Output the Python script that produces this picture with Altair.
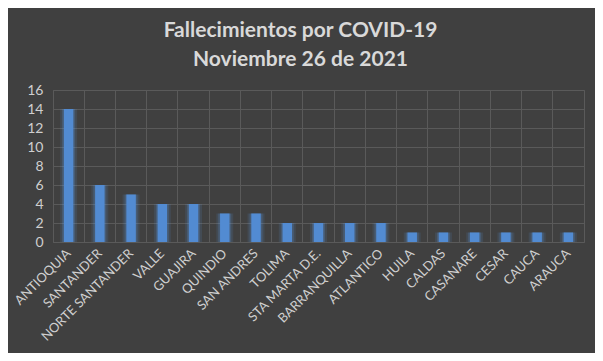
import altair as alt
import pandas as pd

departamentos = ["ANTIOQUIA", "SANTANDER", "NORTE SANTANDER", "VALLE", "GUAJIRA",
                 "QUINDIO", "SAN ANDRES", "TOLIMA", "STA MARTA D.E.", "BARRANQUILLA",
                 "ATLANTICO", "HUILA", "CALDAS", "CASANARE", "CESAR", "CAUCA", "ARAUCA"]
fallecidos = [14, 6, 5, 4, 4, 3, 3, 2, 2, 2, 2, 1, 1, 1, 1, 1, 1]
titulo = ["Fallecimientos por COVID-19", "Noviembre 26 de 2021"]

df = pd.DataFrame({"dep": departamentos, "n": fallecidos})

FONT = "Lato"
BG = "#404040"
GRID = "#5a5a5a"
LBL = "#cfcfcf"

x = alt.X("dep:N", sort=departamentos, title=None,
          scale=alt.Scale(paddingInner=0, paddingOuter=0),
          axis=alt.Axis(labelAngle=-45, labelAlign="right", labelBaseline="middle",
                        labelPadding=9, labelColor=LBL, labelFont=FONT, labelFontSize=13,
                        ticks=False, domain=False, grid=True, gridColor=GRID,
                        bandPosition=0))
y = alt.Y("n:Q", title=None,
          scale=alt.Scale(domain=[0, 16]),
          axis=alt.Axis(values=list(range(0, 17, 2)), labelColor=LBL, labelFont=FONT,
                        labelFontSize=14, labelPadding=10, ticks=False, domain=False,
                        grid=True, gridColor=GRID))

base = alt.Chart(df)
glow2 = base.mark_bar(color="#5b9be8", opacity=0.12, size=17).encode(x=x, y=y)
glow = base.mark_bar(color="#5b9be8", opacity=0.22, size=13).encode(x=x, y=y)
bars = base.mark_bar(color="#528bd2", size=9.5).encode(x=x, y=y)

chart = alt.layer(glow2, glow, bars).properties(
    width=531, height=152,
    background=BG,
    autosize=alt.AutoSizeParams(type="none"),
    padding={"left": 45, "right": 11, "top": 82, "bottom": 111},
    title=alt.TitleParams(titulo, anchor="middle", color="#d9d9d9", font=FONT,
                          fontSize=21, fontWeight="bold", lineHeight=29,
                          offset=13, dx=-18, frame="group"),
).configure_view(stroke=GRID, strokeWidth=1)

chart.save("out.html", embed_options={"renderer": "svg", "actions": False})
